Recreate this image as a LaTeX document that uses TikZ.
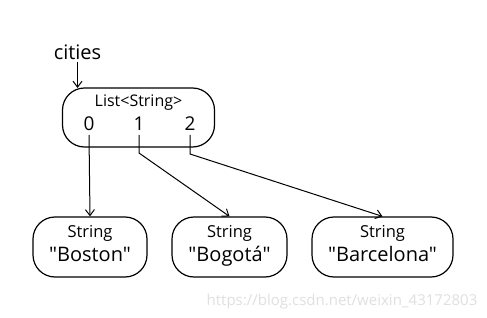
\documentclass[tikz,border=0pt]{standalone}
\usepackage{fontspec}
\setmainfont{Open Sans}[Ligatures=TeXOff]
\usetikzlibrary{arrows.meta}
\begin{document}
\begin{tikzpicture}[x=1pt,y=-1pt,
  box/.style={draw,line width=1.2pt,rounded corners=22pt,inner sep=0pt},
  lbl/.style={anchor=base,inner sep=0pt},
  conn/.style={line width=1pt,-{Straight Barb[length=6pt,width=9pt,line width=1pt]}}]
\useasboundingbox (0,0) rectangle (487,318);
\fill[white] (0,0) rectangle (487,318);
% list box
\node[box,minimum width=152pt,minimum height=59pt] (list) at (138.5,117.5) {};
\node[lbl,font=\fontsize{20}{22}\selectfont] (cities) at (77.5,60) {cities};
\node[lbl,font=\fontsize{16}{18}\selectfont] (ltype) at (138.5,107) {List<String>};
\node[lbl,font=\fontsize{19}{21}\selectfont] (d0) at (89,131) {0};
\node[lbl,font=\fontsize{19}{21}\selectfont] (d1) at (139,131) {1};
\node[lbl,font=\fontsize{19}{21}\selectfont] (d2) at (190,131) {2};
% string boxes
\node[box,minimum width=114pt,minimum height=60pt] (boston) at (90,247) {};
\node[box,minimum width=115pt,minimum height=60pt] (bogota) at (229.5,247) {};
\node[box,minimum width=141pt,minimum height=60pt] (barcelona) at (382.5,247) {};
\node[lbl,font=\fontsize{16.5}{18}\selectfont] (t0) at (90,237) {String};
\node[lbl,font=\fontsize{16.5}{18}\selectfont] (t1) at (229.5,237) {String};
\node[lbl,font=\fontsize{16.5}{18}\selectfont] (t2) at (382.5,237) {String};
\node[lbl,font=\fontsize{20}{22}\selectfont] (v0) at (90,261) {"Boston"};
\node[lbl,font=\fontsize{20}{22}\selectfont] (v1) at (229.5,261) {"Bogotá"};
\node[lbl,font=\fontsize{20}{22}\selectfont] (v2) at (382.5,261) {"Barcelona"};
% connectors
\coordinate (c0) at (77.5,62);
\draw[conn] (c0) -- (77.5,88);
\coordinate (s0) at (89,135);
\coordinate (s1) at (139,135);
\coordinate (s2) at (190,135);
\draw[conn] (s0) -- (boston.north);
\draw[conn] (s1) -- (139,153) -- (bogota.north);
\draw[conn] (s2) -- (190,154) -- (barcelona.north);
% watermark
\node[lbl,font=\fontsize{15}{17}\selectfont,text=black!12] (wm) at (342,305) {https://blog.csdn.net/weixin\_43172803};
\end{tikzpicture}
\end{document}
